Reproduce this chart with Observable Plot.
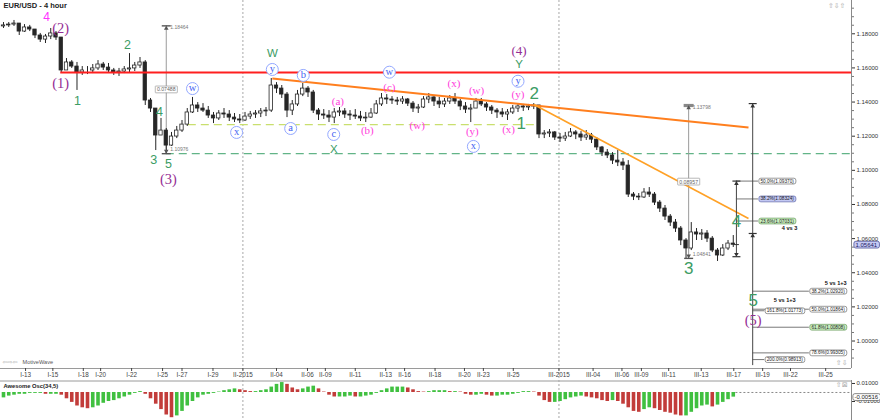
<!DOCTYPE html>
<html>
<head>
<meta charset="utf-8">
<script src="https://cdn.jsdelivr.net/npm/d3@7"></script>
<script src="https://cdn.jsdelivr.net/npm/@observablehq/plot@0.6"></script>
<style>
  html,body{margin:0;padding:0;background:#fff;}
  #chart{width:880px;height:420px;overflow:hidden;background:#fff;}
  #chart svg{display:block;overflow:visible;}
</style>
</head>
<body>
<div id="chart"></div>
<script>
// ================= DATA =================
const title = "EUR/USD - 4 hour";
const firstOpen = 1.1843;
const highs = [
 1.1866,1.1866,1.1878,1.1860,1.1854,1.1849,1.1825,1.1802,1.1796,1.1831,
 1.1813,1.1778,1.1655,1.1643,1.1632,1.1608,1.1608,1.1620,1.1643,1.1632,
 1.1626,1.1597,1.1597,1.1608,1.1684,1.1632,1.1661,1.1643,1.1421,1.1362,
 1.1304,1.1245,1.1222,1.1257,1.1292,1.1362,1.1427,1.1397,1.1391,1.1374,
 1.1339,1.1350,1.1362,1.1350,1.1333,1.1327,1.1339,1.1345,1.1350,1.1362,
 1.1368,1.1538,1.1514,1.1497,1.1456,1.1409,1.1468,1.1509,1.1491,1.1468,
 1.1362,1.1356,1.1350,1.1362,1.1368,1.1362,1.1350,1.1356,1.1345,1.1339,
 1.1362,1.1409,1.1450,1.1444,1.1432,1.1427,1.1432,1.1421,1.1403,1.1386,
 1.1432,1.1450,1.1432,1.1427,1.1421,1.1438,1.1450,1.1415,1.1397,1.1386,
 1.1421,1.1421,1.1397,1.1380,1.1362,1.1362,1.1356,1.1380,1.1391,1.1386,
 1.1386,1.1391,1.1380,1.1233,1.1239,1.1227,1.1216,1.1222,1.1245,1.1233,
 1.1227,1.1233,1.1216,1.1192,1.1140,1.1122,1.1104,1.1116,1.1069,1.1057,
 1.0870,1.0864,1.0893,1.0899,1.0870,1.0823,1.0794,1.0741,1.0712,1.0671,
 1.0600,1.0694,1.0659,1.0653,1.0647,1.0612,1.0542,1.0565,1.0589,1.0618];
const lows = [
 1.1831,1.1837,1.1843,1.1790,1.1808,1.1813,1.1772,1.1749,1.1743,1.1766,
 1.1761,1.1573,1.1585,1.1597,1.1468,1.1556,1.1561,1.1567,1.1585,1.1585,
 1.1573,1.1556,1.1550,1.1567,1.1573,1.1579,1.1597,1.1380,1.1339,1.1116,
 1.1204,1.1098,1.1140,1.1186,1.1222,1.1257,1.1333,1.1339,1.1339,1.1304,
 1.1274,1.1292,1.1304,1.1286,1.1280,1.1274,1.1286,1.1298,1.1304,1.1309,
 1.1315,1.1339,1.1450,1.1421,1.1309,1.1321,1.1374,1.1432,1.1427,1.1333,
 1.1292,1.1298,1.1280,1.1274,1.1315,1.1304,1.1292,1.1298,1.1286,1.1280,
 1.1304,1.1327,1.1374,1.1386,1.1386,1.1380,1.1386,1.1374,1.1339,1.1333,
 1.1362,1.1391,1.1374,1.1362,1.1368,1.1386,1.1386,1.1350,1.1333,1.1280,
 1.1362,1.1374,1.1345,1.1327,1.1304,1.1309,1.1292,1.1327,1.1339,1.1345,
 1.1350,1.1356,1.1186,1.1186,1.1192,1.1175,1.1163,1.1169,1.1192,1.1180,
 1.1169,1.1175,1.1157,1.1116,1.1081,1.1069,1.1034,1.1022,1.0999,1.0841,
 1.0823,1.0823,1.0835,1.0841,1.0794,1.0753,1.0706,1.0671,1.0636,1.0559,
 1.0483,1.0530,1.0589,1.0589,1.0577,1.0518,1.0466,1.0495,1.0530,1.0548];
const closes = [
 1.1849,1.1854,1.1860,1.1813,1.1837,1.1825,1.1790,1.1766,1.1784,1.1802,
 1.1778,1.1585,1.1632,1.1608,1.1573,1.1585,1.1585,1.1597,1.1620,1.1602,
 1.1585,1.1573,1.1579,1.1591,1.1597,1.1614,1.1632,1.1409,1.1362,1.1204,
 1.1233,1.1145,1.1198,1.1233,1.1268,1.1339,1.1380,1.1362,1.1350,1.1321,
 1.1304,1.1333,1.1327,1.1309,1.1298,1.1292,1.1315,1.1327,1.1333,1.1345,
 1.1350,1.1497,1.1479,1.1444,1.1350,1.1386,1.1444,1.1479,1.1456,1.1350,
 1.1327,1.1321,1.1309,1.1339,1.1345,1.1327,1.1321,1.1315,1.1304,1.1309,
 1.1333,1.1386,1.1421,1.1415,1.1409,1.1403,1.1415,1.1391,1.1362,1.1368,
 1.1415,1.1427,1.1403,1.1386,1.1403,1.1421,1.1403,1.1374,1.1356,1.1362,
 1.1403,1.1386,1.1368,1.1350,1.1339,1.1327,1.1339,1.1362,1.1374,1.1368,
 1.1374,1.1380,1.1210,1.1216,1.1222,1.1192,1.1186,1.1198,1.1222,1.1210,
 1.1192,1.1204,1.1180,1.1134,1.1104,1.1087,1.1057,1.1046,1.1028,1.0858,
 1.0846,1.0841,1.0870,1.0858,1.0811,1.0776,1.0729,1.0694,1.0659,1.0589,
 1.0542,1.0636,1.0624,1.0630,1.0600,1.0530,1.0501,1.0542,1.0571,1.0564];
const aoValues = [
 -0.006,-0.004,-0.003,-0.002,-0.002,-0.001,-0.001,-0.001,-0.002,-0.002,
 -0.002,-0.003,-0.007,-0.011,-0.015,-0.017,-0.018,-0.017,-0.015,-0.012,
 -0.010,-0.009,-0.007,-0.005,-0.003,-0.001,0.001,-0.002,-0.007,-0.013,
 -0.019,-0.025,-0.028,-0.026,-0.021,-0.015,-0.010,-0.006,-0.003,-0.002,
 -0.001,0.0005,0.002,0.003,0.004,0.003,0.002,0.001,0.001,0.002,
 0.003,0.006,0.009,0.011,0.009,0.005,0.003,0.004,0.006,0.007,
 0.004,0.0005,-0.003,-0.005,-0.005,-0.005,-0.004,-0.005,-0.005,-0.004,
 -0.003,-0.001,0.002,0.004,0.006,0.006,0.006,0.005,0.003,0.001,
 0.0005,0.001,0.002,0.002,0.002,0.001,0.001,0.0005,-0.002,-0.003,
 -0.003,-0.002,-0.003,-0.004,-0.004,-0.003,-0.003,-0.002,-0.001,0.001,
 0.001,0.0005,-0.004,-0.009,-0.011,-0.011,-0.010,-0.008,-0.006,-0.005,
 -0.004,-0.005,-0.006,-0.007,-0.009,-0.010,-0.009,-0.010,-0.013,-0.017,
 -0.021,-0.022,-0.019,-0.017,-0.018,-0.020,-0.022,-0.023,-0.025,-0.026,
 -0.026,-0.022,-0.018,-0.015,-0.014,-0.016,-0.014,-0.011,-0.008,-0.00516];

// time axis (positions in bar units)
const tickPos = [4.2,9.4,15.2,18.5,24.4,30.3,34.0,39.9,45.6,52.0,57.9,61.3,67.0,72.8,76.4,82.2,87.8,91.4,97.1,105.8,112.3,117.8,121.5,126.7,132.9,139.1,144.6,149.9,156.6];
const tickLabels = ["I-13","I-15","I-18","I-20","I-22","I-25","I-27","I-29","II-2015","II-04","II-06","II-09","II-11","II-13","II-16","II-18","II-20","II-23","II-25","III-2015","III-04","III-06","III-09","III-11","III-13","III-17","III-19","III-22","III-25"];
const sessionStarts = [45.6, 105.8];
const priceTicks = [1.00,1.02,1.04,1.06,1.08,1.10,1.12,1.14,1.16,1.18];
const minorTicks = [0.99,0.995,1.005,1.01,1.015,1.025,1.03,1.035,1.045,1.05,1.055,1.065,1.07,1.075,1.085,1.09,1.095,1.105,1.11,1.115,1.125,1.13,1.135,1.145,1.15,1.155,1.165,1.17,1.175,1.185,1.19,1.195];
const aoTicks = [0.01, -0.01];
const lastPrice = 1.05641;
const lastAO = -0.00516;

// drawn lines
const redLevel = {x1: 10.9, price: 1.1573};
const greenDash = {x1: 31, price: 1.10976};
const limeDash = {x1: 35.2, x2: 102.3, price: 1.1268};
const trendLines = [
  {x1: 51.2, y1: 1.1538, x2: 141.9, y2: 1.1251},
  {x1: 101, y1: 1.1386, x2: 141.9, y2: 1.0718}
];
const measures = [
  {x: 31, top: 1.18464, bottom: 1.10976, diff: "0.07488"},
  {x: 130.5, top: 1.13798, bottom: 1.04841, diff: "0.08957"}
];
// Fibonacci tool "4 vs 3"
const fib1 = {x: 139.6, boxX: 143.8, top: 1.09370, bottom: 1.0494, mark: 1.0565};
const fib1Pct = ["50.0%","38.2%","23.6%"];
const fib1Price = [1.09370,1.08324,1.07031];
const fib1Fill = ["w","b","g"];
const fib1Name = {t: "4 vs 3", x: 151.2, y: 1.0659};
// Fibonacci tools "5 vs 1+3"
const fib2 = {x: 142.7, top: 1.1391, bottom: 0.9856, mid: 1.0630};
const fib2Pct = ["38.2%","50.0%","61.8%","78.6%","161.8%","200.0%"];
const fib2Price = [1.02920,1.01864,1.00808,0.99305,1.01773,0.98913];
const fib2BoxX = [153.5,153.5,153.5,153.5,145.0,145.0];
const fib2Fill = ["w","w","g","w","w","w"];
const fib2Names = [{t: "5 vs 1+3", x: 160.6, y: 1.0337}, {t: "5 vs 1+3", x: 150.9, y: 1.0237}];

// wave labels: [text, bar position, price]
const magentaLabels = [["4", 8.2, 1.1898]];
const purpleLabels = [["(2)",10.9,1.1831],["(1)",10.9,1.1509],["(3)",31.4,1.0946],["(5)",142.8,1.0120]];
const purpleSmall = [["(4)",98.2,1.1702]];
const greenSmall = [["1",14.1,1.1409],["2",23.6,1.1737],["4",29.7,1.1339],["3",28.6,1.1063],["5",31.4,1.1040]];
const greenLetters = [["W",51.2,1.1684],["X",62.9,1.1122],["Y",98.2,1.1620]];
const greenBig = [["2",101.1,1.1450],["1",98.6,1.1272],["3",130.5,1.0425],["4",139.6,1.0700],["5",142.8,1.0237]];
const circled = [["w",36.0,1.1479],["x",44.4,1.1222],["y",51.2,1.1591],["b",57.1,1.1556],["a",54.7,1.1245],["c",62.9,1.1210],["w",73.5,1.1575],["x",89.5,1.1140],["y",98.0,1.1522]];
const parenLabels = [["(a)",63.7,1.1405],["(b)",69.3,1.1233],["(c)",73.5,1.1487],["(w)",78.8,1.1263],["(x)",85.8,1.1507],["(w)",90.1,1.1468],["(y)",89.3,1.1229],["(y)",98.0,1.1444],["(x)",96.2,1.1237]];

// ================= CHART =================
const xDomain = [-0.571, 161.52];
const yDomain = [0.9839, 1.1995];
const aoDomain = [-0.0311, 0.0133];
const SANS = "'Liberation Sans', Arial, sans-serif";
const SERIF = "'Liberation Serif', 'Times New Roman', serif";
const DARK = "#262626";

const bars = highs.map((h, i) => ({i, h, l: lows[i], c: closes[i], o: i ? closes[i - 1] : firstOpen}));
const tickMap = new Map(tickPos.map((p, k) => [p, tickLabels[k]]));
const hline = {draw(ctx, size) { const r = Math.sqrt(size / Math.PI); ctx.moveTo(-r, 0); ctx.lineTo(r, 0); }};

const fib1Levels = fib1Pct.map((p, k) => ({label: `${p}(${fib1Price[k].toFixed(5)})`, price: fib1Price[k], fill: fib1Fill[k]}));
const fib2Levels = fib2Pct.map((p, k) => ({label: `${p}(${fib2Price[k].toFixed(5)})`, price: fib2Price[k], bx: fib2BoxX[k], fill: fib2Fill[k]}));

const txt = (arr, o) => Plot.text(arr, {x: d => d[1], y: d => d[2], text: d => d[0], ...o});

const main = Plot.plot({
  width: 880, height: 380,
  marginTop: 0, marginBottom: 12, marginLeft: 0, marginRight: 29,
  x: {domain: xDomain, axis: null, label: null},
  y: {domain: yDomain, axis: null, label: null},
  color: {type: "identity"},
  style: {fontFamily: SANS, fontSize: "6px", background: "#fff", overflow: "visible"},
  marks: [
    // frame lines
    Plot.ruleY([yDomain[0]], {stroke: "#9a9a9a"}),
    Plot.ruleX([xDomain[1]], {stroke: "#8a8a8a"}),
    Plot.ruleX(sessionStarts, {stroke: "#a8a8a8", strokeDasharray: "2,2", insetBottom: -12}),
    // axes
    Plot.axisY({anchor: "right", ticks: minorTicks, tickSize: 2, tickFormat: () => "", label: null, stroke: "#777"}),
    Plot.axisY({anchor: "right", ticks: priceTicks, tickSize: 3, tickPadding: 2, tickFormat: d => d.toFixed(5), label: null, fontSize: 6, color: "#333"}),
    Plot.axisX({anchor: "bottom", ticks: tickPos, tickSize: 3, tickPadding: 1, tickFormat: d => tickMap.get(d), label: null, fontSize: 6.3, color: "#444"}),
    // dashed horizontal levels
    Plot.ruleY([greenDash.price], {x1: greenDash.x1, x2: xDomain[1], stroke: "#62b487", strokeWidth: 1.4, strokeDasharray: "8,5"}),
    Plot.ruleY([limeDash.price], {x1: limeDash.x1, x2: limeDash.x2, stroke: "#c9df6e", strokeWidth: 1.4, strokeDasharray: "8,5"}),
    // measuring tool lines
    Plot.ruleX(measures, {x: "x", y1: "bottom", y2: "top", stroke: "#9a9a9a", strokeWidth: 1}),
    // candles
    Plot.ruleX(bars, {x: "i", y1: "l", y2: "h", stroke: DARK, strokeWidth: 1}),
    Plot.rect(bars, {x1: d => d.i - 0.32, x2: d => d.i + 0.32, y1: d => Math.min(d.o, d.c), y2: d => Math.max(d.o, d.c),
      fill: d => d.c > d.o ? "#ffffff" : DARK, stroke: DARK, strokeWidth: 0.8}),
    // red level & trend lines
    Plot.ruleY([redLevel.price], {x1: redLevel.x1, x2: xDomain[1], stroke: "#ff1f1f", strokeWidth: 2}),
    Plot.link([trendLines[0]], {x1: "x1", y1: "y1", x2: "x2", y2: "y2", stroke: "#ff7f1e", strokeWidth: 2}),
    Plot.link([trendLines[1]], {x1: "x1", y1: "y1", x2: "x2", y2: "y2", stroke: "#ffa126", strokeWidth: 1.6}),
    // measuring tool caps & labels
    Plot.dot(measures, {x: "x", y: "top", symbol: hline, r: 4.5, stroke: "#555", strokeWidth: 1.4}),
    Plot.dot(measures, {x: "x", y: "bottom", symbol: hline, r: 4.5, stroke: "#555", strokeWidth: 1.4}),
    Plot.dot([measures[1]], {x: "x", y: "top", symbol: hline, r: 5, stroke: "#888", strokeWidth: 3.2}),
    Plot.dot(measures, {x: "x", y: "top", symbol: "triangle", r: 1.7, fill: "#555", dy: 2.5}),
    Plot.dot(measures, {x: "x", y: "bottom", symbol: "triangle", r: 1.7, fill: "#555", rotate: 180, dy: -2.5}),
    Plot.text(measures, {x: "x", y: "top", text: d => d.top.toFixed(5), dx: 4, dy: 2, textAnchor: "start", fontSize: 5, fill: "#777"}),
    Plot.text(measures, {x: "x", y: "bottom", text: d => d.bottom.toFixed(5), dx: 4, dy: -4, textAnchor: "start", fontSize: 5, fill: "#777"}),
    Plot.text(measures, {x: "x", y: d => (d.top + d.bottom) / 2, text: "diff", fontSize: 5.2, fill: "#666", ariaDescription: "boxm"}),
    // fib 1
    Plot.ruleX([fib1], {x: "x", y1: "bottom", y2: "top", stroke: "#444", strokeWidth: 1}),
    Plot.ruleY(fib1Levels, {y: "price", x1: fib1.x, x2: fib1.boxX, stroke: "#555", strokeWidth: 0.8}),
    Plot.dot([fib1], {x: "x", y: "top", symbol: hline, r: 4, stroke: "#333", strokeWidth: 1.2}),
    Plot.dot([fib1], {x: "x", y: "bottom", symbol: hline, r: 4, stroke: "#333", strokeWidth: 1.2}),
    Plot.dot([fib1], {x: "x", y: "mark", symbol: hline, r: 2.5, stroke: "#333", strokeWidth: 1}),
    Plot.dot([fib1], {x: "x", y: "top", symbol: "triangle", r: 1.7, fill: "#333", dy: 2.5}),
    Plot.dot([fib1], {x: "x", y: "bottom", symbol: "triangle", r: 1.7, fill: "#333", rotate: 180, dy: -2.5}),
    // fib 2
    Plot.ruleX([fib2], {x: "x", y1: "bottom", y2: "top", stroke: "#444", strokeWidth: 1}),
    Plot.ruleY(fib2Levels, {y: "price", x1: fib2.x, x2: "bx", stroke: "#555", strokeWidth: 0.8}),
    Plot.dot([fib2], {x: "x", y: "top", symbol: hline, r: 4, stroke: "#333", strokeWidth: 1.2}),
    Plot.dot([fib2], {x: "x", y: "mid", symbol: hline, r: 4, stroke: "#333", strokeWidth: 1.2}),
    Plot.dot([fib2], {x: "x", y: "top", symbol: "triangle", r: 1.7, fill: "#333", dy: 2.5}),
    Plot.dot([fib2], {x: "x", y: "mid", symbol: "triangle", r: 1.7, fill: "#333", dy: 2.5}),
    // fib label boxes
    Plot.text(fib1Levels.filter(d => d.fill === "w"), {x: fib1.boxX, y: "price", text: "label", dx: 2, textAnchor: "start", fontSize: 4.7, fill: "#222", ariaDescription: "boxw"}),
    Plot.text(fib1Levels.filter(d => d.fill === "b"), {x: fib1.boxX, y: "price", text: "label", dx: 2, textAnchor: "start", fontSize: 4.7, fill: "#222", ariaDescription: "boxb"}),
    Plot.text(fib1Levels.filter(d => d.fill === "g"), {x: fib1.boxX, y: "price", text: "label", dx: 2, textAnchor: "start", fontSize: 4.7, fill: "#222", ariaDescription: "boxg"}),
    Plot.text(fib2Levels.filter(d => d.fill === "w"), {x: "bx", y: "price", text: "label", dx: 2, textAnchor: "start", fontSize: 4.7, fill: "#222", ariaDescription: "boxw"}),
    Plot.text(fib2Levels.filter(d => d.fill === "g"), {x: "bx", y: "price", text: "label", dx: 2, textAnchor: "start", fontSize: 4.7, fill: "#222", ariaDescription: "boxg"}),
    Plot.text([fib1Name, ...fib2Names], {x: "x", y: "y", text: "t", textAnchor: "end", fontSize: 5.6, fontWeight: "bold", fill: "#111"}),
    // wave labels
    txt(magentaLabels, {fill: "#ff33ff", fontSize: 12, fontFamily: SANS}),
    txt(purpleLabels, {fill: "#952d95", fontSize: 14.5, fontFamily: SERIF}),
    txt(purpleSmall, {fill: "#952d95", fontSize: 13, fontFamily: SERIF}),
    txt(greenSmall, {fill: "#3c9c64", fontSize: 12.5, fontFamily: SANS}),
    txt(greenLetters, {fill: "#3c9c64", fontSize: 11.5, fontFamily: SANS}),
    txt(greenBig, {fill: "#3c9c64", fontSize: 17, fontFamily: SANS}),
    Plot.dot(circled, {x: d => d[1], y: d => d[2], r: 6, fill: "#fff", stroke: "#93a8ff", strokeWidth: 1}),
    txt(circled, {fill: "#3f5ff2", fontSize: 10.5, fontFamily: SERIF, dy: -0.8}),
    txt(parenLabels, {fill: "#ff3ddc", fontSize: 11, fontFamily: SERIF}),
    // current price
    Plot.text([lastPrice], {x: xDomain[1], y: d => d, text: d => d.toFixed(5), dx: 4, textAnchor: "start", fontSize: 6, fill: "#1b1b5e", ariaDescription: "boxp"}),
    // title, watermark, icons
    Plot.text([title], {frameAnchor: "top-left", text: d => d, dx: 3, dy: 5, textAnchor: "start", lineAnchor: "middle", fontSize: 7.5, fontWeight: "bold", fill: "#222"}),
    Plot.text(["⇦⇨⇦"], {frameAnchor: "bottom-left", text: d => d, dx: 2, dy: -6, textAnchor: "start", lineAnchor: "middle", fontSize: 6, fill: "#999", fontFamily: "'DejaVu Sans'"}),
    Plot.text(["MotiveWave"], {frameAnchor: "bottom-left", text: d => d, dx: 22, dy: -6, textAnchor: "start", lineAnchor: "middle", fontSize: 5.6, fill: "#555"}),
    Plot.text(["⇧⇩⇧"], {frameAnchor: "top-right", text: d => d, dx: -6, dy: 5, textAnchor: "end", lineAnchor: "middle", fontSize: 7, fill: "#aaa", fontFamily: "'DejaVu Sans'"}),
    Plot.text(["⇧⇩"], {frameAnchor: "bottom-right", text: d => d, dx: -4, dy: -6, textAnchor: "end", lineAnchor: "middle", fontSize: 7, fill: "#aaa", fontFamily: "'DejaVu Sans'"})
  ]
});

const aoData = aoValues.map((v, i) => ({i, v, color: (i === 0 || v >= aoValues[i - 1]) ? "#40c040" : "#c23c3a"}));

const osc = Plot.plot({
  width: 880, height: 40,
  marginTop: 0, marginBottom: 0, marginLeft: 0, marginRight: 29,
  x: {domain: xDomain, axis: null, label: null},
  y: {domain: aoDomain, axis: null, label: null},
  color: {type: "identity"},
  style: {fontFamily: SANS, fontSize: "6px", background: "#fff", overflow: "visible"},
  marks: [
    Plot.ruleY([aoDomain[1]], {stroke: "#9a9a9a", dy: 0.5, x1: xDomain[0], x2: xDomain[1]}),
    Plot.ruleX([xDomain[1]], {stroke: "#8a8a8a"}),
    Plot.ruleX(sessionStarts, {stroke: "#a8a8a8", strokeDasharray: "2,2"}),
    Plot.ruleX(aoData, {x: "i", y1: 0, y2: "v", stroke: "color", strokeWidth: 3.6}),
    Plot.ruleY([0], {x1: aoValues.length - 0.5, x2: xDomain[1], stroke: "#888", strokeDasharray: "2,2"}),
    Plot.axisY({anchor: "right", ticks: aoTicks, tickSize: 3, tickPadding: 2, tickFormat: d => d.toFixed(5), label: null, fontSize: 6, color: "#333"}),
    Plot.text([lastAO], {x: xDomain[1], y: d => d, text: d => d.toFixed(5), dx: 3, textAnchor: "start", fontSize: 6, fill: "#222", ariaDescription: "boxo"}),
    Plot.text(["Awesome Osc(34,5)"], {frameAnchor: "top-left", text: d => d, dx: 3, dy: 6, textAnchor: "start", lineAnchor: "middle", fontSize: 5.8, fontWeight: "bold", fill: "#222"}),
    Plot.text(["⇧⊠"], {frameAnchor: "top-right", text: d => d, dx: -4, dy: 4, textAnchor: "end", lineAnchor: "middle", fontSize: 7, fill: "#aaa", fontFamily: "'DejaVu Sans'"})
  ]
});

const root = document.getElementById("chart");
root.append(main, osc);

// rounded label boxes drawn behind selected texts
const boxStyles = {
  boxw: {fill: "#ffffff", stroke: "#6f6f6f", rx: 2},
  boxb: {fill: "#c3c8f3", stroke: "#5b64a8", rx: 2},
  boxg: {fill: "#c9efbf", stroke: "#6c9b62", rx: 2},
  boxm: {fill: "#ffffff", stroke: "#9a9a9a", rx: 0.5},
  boxp: {fill: "#c6caf4", stroke: "#39408c", rx: 2},
  boxo: {fill: "#ffffff", stroke: "#555555", rx: 2}
};
for (const svg of [main, osc]) {
  for (const [name, s] of Object.entries(boxStyles)) {
    svg.querySelectorAll(`g[aria-description="${name}"] text`).forEach(t => {
      const b = t.getBBox();
      const r = document.createElementNS("http://www.w3.org/2000/svg", "rect");
      r.setAttribute("x", b.x - 1.6);
      r.setAttribute("y", b.y - 0.4);
      r.setAttribute("width", b.width + 3.2);
      r.setAttribute("height", b.height + 0.8);
      r.setAttribute("rx", s.rx);
      r.setAttribute("fill", s.fill);
      r.setAttribute("stroke", s.stroke);
      r.setAttribute("stroke-width", 0.7);
      const tr = t.getAttribute("transform");
      if (tr) r.setAttribute("transform", tr);
      t.parentNode.insertBefore(r, t);
    });
  }
}
</script>
</body>
</html>
